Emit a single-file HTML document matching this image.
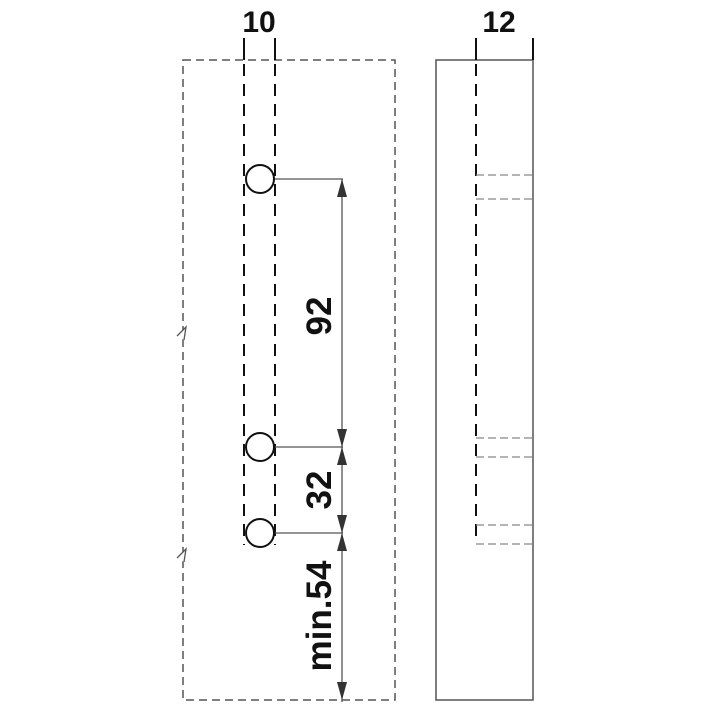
<!DOCTYPE html>
<html><head><meta charset="utf-8"><style>body{margin:0;background:#fff}</style></head><body>
<svg width="712" height="712" viewBox="0 0 712 712" xmlns="http://www.w3.org/2000/svg">
<g fill="none">
<path d="M183 60 H395 V700 H183 Z" stroke="#555" stroke-width="1.5" stroke-dasharray="8,5"/>
<path d="M177 336 L186 327 L184 340" stroke="#555" stroke-width="1.3" fill="#fff"/>
<path d="M177 558 L186 549 L184 562" stroke="#555" stroke-width="1.3" fill="#fff"/>
<path d="M244 38 V60 M275 38 V60" stroke="#111" stroke-width="2"/>
<path d="M244 64 V545 M275 64 V545" stroke="#111" stroke-width="2" stroke-dasharray="12,8"/>
<circle cx="260" cy="179" r="14" fill="#fff" stroke="#111" stroke-width="2"/>
<circle cx="260" cy="447" r="14" fill="#fff" stroke="#111" stroke-width="2"/>
<circle cx="260" cy="533" r="14" fill="#fff" stroke="#111" stroke-width="2"/>
<path d="M275 179 H343 M275 447 H343 M275 533 H343" stroke="#555" stroke-width="1.3"/>
<path d="M342 179 V702" stroke="#555" stroke-width="1.3"/>
</g>
<g fill="#333">
<path d="M342 179 L337 197 L347 197 Z"/>
<path d="M342 447 L337 429 L347 429 Z"/>
<path d="M342 447 L337 465 L347 465 Z"/>
<path d="M342 533 L337 515 L347 515 Z"/>
<path d="M342 533 L337 551 L347 551 Z"/>
<path d="M342 700 L337 682 L347 682 Z"/>
</g>
<g font-family="Liberation Sans, sans-serif" font-weight="bold" fill="#111" text-anchor="middle">
<text x="259" y="32" font-size="30">10</text>
<text x="499" y="32" font-size="30">12</text>
<text transform="translate(331,316) rotate(-90)" font-size="35">92</text>
<text transform="translate(331,490) rotate(-90)" font-size="35">32</text>
<text transform="translate(331,616) rotate(-90)" font-size="35">min.54</text>
</g>
<g fill="none">
<path d="M436 60 H533 V700 H436 Z" stroke="#555" stroke-width="1.5"/>
<path d="M476 38 V60 M533 38 V60" stroke="#111" stroke-width="2"/>
<path d="M476 64 V544" stroke="#111" stroke-width="2" stroke-dasharray="12,8"/>
<path d="M476 175 H533 M476 199 H533 M476 438 H533 M476 457 H533 M476 525 H533 M476 544 H533" stroke="#888" stroke-width="1.3" stroke-dasharray="8,4"/>
</g>
</svg>
</body></html>
